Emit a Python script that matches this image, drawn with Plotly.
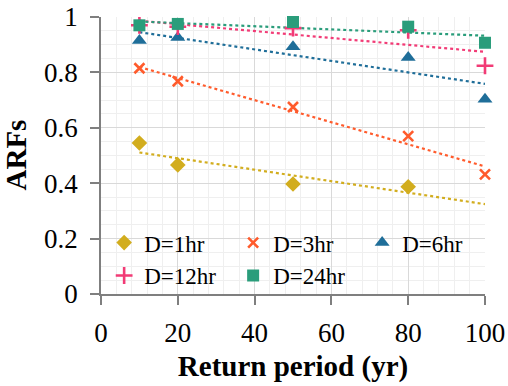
import numpy as np
import plotly.graph_objects as go

return_period = [10, 20, 50, 80, 100]
series_names = ["D=1hr", "D=3hr", "D=6hr", "D=12hr", "D=24hr"]
arf_1hr = [0.545, 0.466, 0.397, 0.387, None]
arf_3hr = [0.815, 0.768, 0.675, 0.570, 0.432]
arf_6hr = [0.915, 0.926, 0.893, 0.854, 0.703]
arf_12hr = [0.970, 0.965, 0.960, 0.952, 0.824]
arf_24hr = [0.970, 0.975, 0.982, 0.965, 0.907]
x_ticks = [0, 20, 40, 60, 80, 100]
y_ticks = [0, 0.2, 0.4, 0.6, 0.8, 1]

all_series = [arf_1hr, arf_3hr, arf_6hr, arf_12hr, arf_24hr]
colors = ["#D2AD1E", "#FF5B2C", "#1F6E99", "#F23B76", "#2A9D7B"]
symbols = ["diamond", "x-thin", "triangle-up", "cross-thin", "square"]
sizes = [12, 10, 13, 12, 12]

fig = go.Figure()
font_family = "Liberation Serif"

# trendlines (linear fit), drawn first
for vals, col in zip(all_series, colors):
    xs = [x for x, v in zip(return_period, vals) if v is not None]
    ys = [v for v in vals if v is not None]
    k, b = np.polyfit(xs, ys, 1)
    xl = [10, 100]
    fig.add_trace(go.Scatter(x=xl, y=[k * xv + b for xv in xl], mode="lines",
                             line=dict(color=col, width=2.2, dash="dot"),
                             showlegend=False, hoverinfo="skip"))

for name, vals, col, sym, sz in zip(series_names, all_series, colors, symbols, sizes):
    mk = dict(color=col, symbol=sym, size=sz)
    if sym.endswith("thin"):
        mk["line"] = dict(color=col, width=2.6)
    else:
        mk["line"] = dict(width=0)
    fig.add_trace(go.Scatter(x=return_period, y=vals, mode="markers", name=name,
                             marker=mk, cliponaxis=False))

fig.update_layout(
    width=508, height=386,
    margin=dict(l=101, r=23, t=17, b=92, autoexpand=False),
    paper_bgcolor="white", plot_bgcolor="white",
    font=dict(family=font_family, size=27, color="black"),
    legend=dict(orientation="h", xref="container", x=0.205, y=0.263,
                xanchor="left", yanchor="top",
                bgcolor="rgba(0,0,0,0)", font=dict(size=23),
                entrywidth=84, entrywidthmode="pixels",
                itemwidth=30, tracegroupgap=0),
    showlegend=True,
    annotations=[dict(text="<b>ARFs</b>", textangle=-90, xref="paper", yref="paper",
                      x=(15 - 101) / 384, y=0.5, xanchor="center", yanchor="middle",
                      showarrow=False, font=dict(size=29))],
)
fig.update_xaxes(range=[0, 100], tickvals=x_ticks, ticktext=[str(t) for t in x_ticks],
                 showline=True, linecolor="#7F7F7F", linewidth=1.5,
                 ticks="outside", ticklen=9, tickcolor="#7F7F7F", tickwidth=1.5,
                 ticklabelstandoff=5,
                 showgrid=True, gridcolor="#D9D9D9", gridwidth=1,
                 minor=dict(dtick=4, showgrid=True, gridcolor="#EFEFEF", gridwidth=1),
                 zeroline=False,
                 title=dict(text="<b>Return period (yr)</b>", font=dict(size=29), standoff=9))
fig.update_yaxes(range=[0, 1], tickvals=y_ticks, ticktext=["0", "0.2", "0.4", "0.6", "0.8", "1"],
                 showline=True, linecolor="#7F7F7F", linewidth=1.5,
                 ticks="outside", ticklen=9, tickcolor="#7F7F7F", tickwidth=1.5,
                 ticklabelstandoff=7,
                 showgrid=True, gridcolor="#D9D9D9", gridwidth=1,
                 minor=dict(dtick=0.05, showgrid=True, gridcolor="#EFEFEF", gridwidth=1),
                 zeroline=False)

fig.write_html("out.html", config={"displayModeBar": False},
               post_script="document.body.style.margin='0';")
